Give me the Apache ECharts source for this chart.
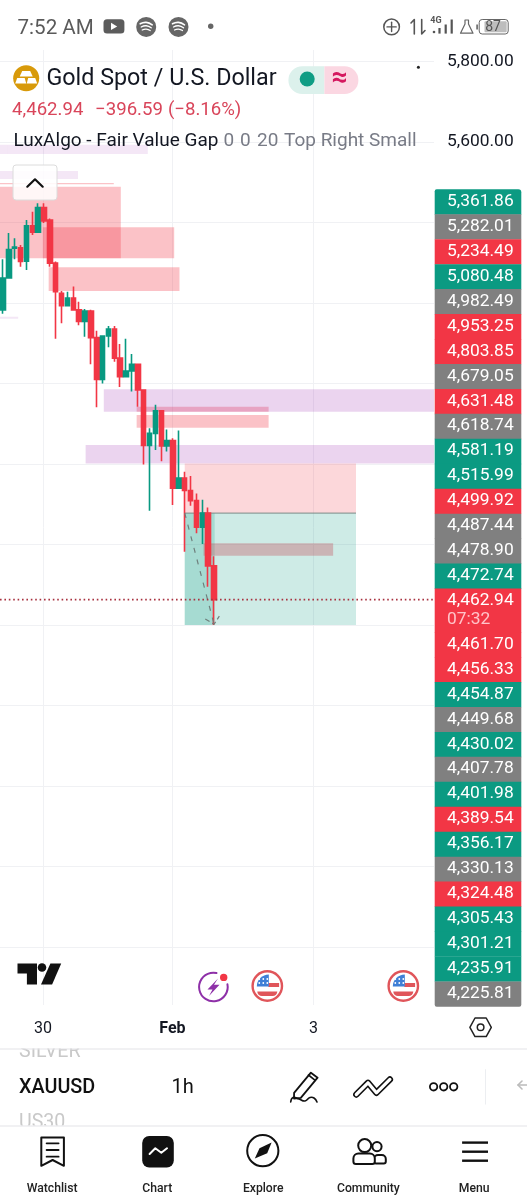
<!DOCTYPE html>
<html><head><meta charset="utf-8">
<style>html,body{margin:0;padding:0;background:#fff}#c{width:527px;height:1200px}</style>
<script src="https://cdn.jsdelivr.net/npm/echarts@6/dist/echarts.min.js"></script>
</head><body><div id="c"></div>
<script>
// ---- candle data (hourly XAUUSD) ----
const opens =[5183,5262,5336,5337,5304,5392,5376,5437,5406,5299,5224,5193,5212,5183,5154,5180,5114,5010,5118,5135,5063,5017,5031,5048,4984,4846,4876,4932,4845,4858,4740,4765,4734,4709,4643,4678,4547];
const closes=[5262,5333,5339,5303,5392,5376,5437,5404,5299,5228,5193,5212,5183,5154,5180,5114,5010,5118,5135,5063,5017,5031,5048,4984,4846,4876,4932,4845,4858,4740,4765,4734,4709,4643,4678,4547,4462.94];
const highs =[5309,5374,5361,5344,5406,5427,5448,5448,5410,5303,5230,5228,5241,5203,5185,5183,5131,5120,5143,5143,5098,5111,5073,5048,4985,4889,4947,4932,4886,4864,4883,4781,4770,4727,4711,4692,4571];
const lows  =[5173,5262,5309,5290,5282,5369,5375,5399,5290,5111,5150,5192,5181,5145,5116,5048,4941,5000,5090,5054,4991,5015,4980,4942,4799,4684,4835,4807,4831,4698,4740,4582,4696,4628,4601,4495,4400];
const lastPrice=4462.94;
const barCount=74;
const tickLabels=['30','Feb','3'];
const tickBars=[7,29,53];
const categories=Array.from({length:barCount},(_,i)=>tickBars.indexOf(i)>=0?tickLabels[tickBars.indexOf(i)]:'h'+i);
const priceTicks=['5,800.00','5,600.00'];
// zones: [fromBar,toBar,topPrice,bottomPrice]
const pinkZones=[[-0.5,20.1,5489,5311],[6.8,29.2,5388,5311],[7.8,30.1,5289,5230],[22.8,45.3,4942,4930],[22.8,45.3,4922,4890],[-0.5,18.9,5498,5495]];
const purpleZones=[[17.2,73.5,4986,4930],[14.1,73.5,4847,4801]];
const lilacZones=[[0.7,24.7,5593,5570],[-0.5,0.7,5593,5570],[-0.5,12.8,5528,5508],[-0.5,2.6,5166,5161]];
const stopZones=[[31,60.2,4801,4678]];
const targetZones=[[31,60.2,4678,4400],[31,36.1,4678,4400]];
const duskZones=[[34.2,56.3,4603,4572]];
const entryLine=[[31,4678],[60.2,4678]];
const forecastLine=[[31,4678],[36,4402]];
const forecastHead=[[34.5,4415],[36,4402],[36.9,4422]];
// price tags on the right scale
const tagValues=['5,361.86','5,282.01','5,234.49','5,080.48','4,982.49','4,953.25','4,803.85','4,679.05','4,631.48','4,618.74','4,581.19','4,515.99','4,499.92','4,487.44','4,478.90','4,472.74','4,462.94','4,461.70','4,456.33','4,454.87','4,449.68','4,430.02','4,407.78','4,401.98','4,389.54','4,356.17','4,330.13','4,324.48','4,305.43','4,301.21','4,235.91','4,225.81'];
const tagKinds=['g','n','r','g','n','r','r','n','r','n','g','g','r','n','n','g','r','r','r','g','n','g','n','g','r','g','n','r','g','g','g','n'];
const countdown='07:32';

const UP='#089981',DOWN='#f23645',GRID='#f0f1f4',FONT='Roboto';
const ink='#131722';
const els=[];
function T(text,x,y,size,fill,o){o=o||{};els.push({type:'text',z:o.z||50,silent:true,style:{text,x,y,fontSize:size,fontFamily:FONT,fontWeight:o.w||400,fill,align:o.a||'left',textAlign:o.a||'left',verticalAlign:'middle',textVerticalAlign:'middle'}});}
function R(x,y,w,h,fill,r,z){els.push({type:'rect',z:z||40,silent:true,shape:{x,y,width:w,height:h,r:r||0},style:{fill}});}
function C(cx,cy,r,fill,stroke,lw,z){els.push({type:'circle',z:z||45,silent:true,shape:{cx,cy,r},style:{fill:fill||'none',stroke:stroke||'none',lineWidth:lw||0}});}
function PG(points,fill,stroke,lw,z){els.push({type:'polygon',z:z||46,silent:true,shape:{points},style:{fill:fill||'none',stroke:stroke||'none',lineWidth:lw||0,lineJoin:'round'}});}
function PL(points,stroke,lw,smooth,z){els.push({type:'polyline',z:z||46,silent:true,shape:{points,smooth:smooth||0},style:{fill:'none',stroke,lineWidth:lw,lineCap:'round',lineJoin:'round'}});}

// --- status bar
T('7:52 AM',17.5,28.5,20.6,'#5a5a5a');
R(103.5,19.2,20.9,14.4,'#5c5c5c',3.5);PG([[111,22.7],[111,30],[117.2,26.4]],'#fff');
[146.2,178.5].forEach(cx=>{C(cx,26.9,10,'#666');PL([[cx-6,23.8],[cx,22.4],[cx+6,24.8]],'#fff',1.6,0.5);PL([[cx-5,27],[cx,25.8],[cx+5,27.8]],'#fff',1.4,0.5);PL([[cx-4,30],[cx,29.1],[cx+4,30.6]],'#fff',1.2,0.5);});
C(210.7,26.2,2.7,'#666');
C(391.6,26.9,7.8,null,'#555',1.5);PL([[387,26.9],[396.2,26.9]],'#555',1.4);PL([[391.6,22.3],[391.6,31.5]],'#555',1.4);
PL([[414.3,34],[414.3,19.5],[411,23]],'#555',1.6);PL([[421.7,19.5],[421.7,34],[425,30.5]],'#555',1.6);
T('4G',436,20.5,9,'#555',{a:'center',w:700});
C(434,32,1.3,'#555');R(438.4,28,2.2,5.6,'#555');R(444.6,24.5,2.2,9.1,'#555');R(450.6,19.5,2.2,14.1,'#555');
PG([[465,20],[468.5,20],[468.5,24],[473,33.2],[460.5,33.2],[465,24]],null,'#666',1.2);
R(476.3,24.5,1.6,5,'#666');
els.push({type:'rect',z:41,silent:true,shape:{x:479.2,y:19.5,width:29,height:14.5,r:3},style:{fill:'#fff',stroke:'#666',lineWidth:1}});
R(484.5,21.3,22.2,11,'#bdbdbd',1,42);
T('87',493,27.5,14,'#555',{a:'center'});

// --- symbol header
C(26.2,78.3,13,'#d89a0a');
PG([[22.2,71.1],[30.2,71.1],[32.7,76.6],[19.7,76.6]],'#fff');PG([[17.2,78.1],[24.7,78.1],[26.2,83.6],[15.2,83.6]],'#fff');PG([[28.2,78.1],[35.2,78.1],[37.2,83.6],[26.7,83.6]],'#fff');
T('Gold Spot / U.S. Dollar',46.4,79.5,23.3,ink);
R(288.4,66.2,36,27.9,'#dcf1ec',[14,0,0,14]);R(324.4,66.2,34,27.9,'#fbd7e2',[0,14,14,0]);
C(307.2,79,7.5,'#0f9d84');T('\u2248',339.8,78.5,28,'#d5185f',{a:'center',w:700});
T('4,462.94',12.1,110,18.6,'#d9455a');T('\u2212396.59',95.1,110,18.6,'#d9455a');T('(\u22128.16%)',168,110,18.6,'#d9455a');
T('LuxAlgo - Fair Value Gap',13.4,141.5,19,ink);T('0',223.5,141.5,19,'#787b86');T('0',240,141.5,19,'#787b86');T('20',257,141.5,19,'#787b86');T('Top Right Small',284,141.5,19,'#787b86');
C(418.4,67.2,1.5,'#222');
// --- collapse button
els.push({type:'rect',z:42,silent:true,shape:{x:13,y:165,width:44,height:35,r:3},style:{fill:'rgba(255,255,255,0.86)',stroke:'#dcdcdc',lineWidth:1}});
PL([[27.3,186.7],[35,179.3],[42.7,186.7]],'#111',2.2);
// --- tradingview logo and event icons
PG([[17.5,963.4],[37,963.4],[37,984.6],[26.9,984.6],[26.9,973.5],[17.5,973.5]],'#111');C(42,967.5,4.3,'#111');PG([[50.4,963.4],[61.2,963.4],[52.1,984.6],[41,984.6]],'#111');
els.push({type:'arc',z:45,silent:true,shape:{cx:213.4,cy:987,r:14.3,startAngle:-0.2,endAngle:-1.35,clockwise:true},style:{fill:'none',stroke:'#8e30a8',lineWidth:2,lineCap:'round'}});
PG([[218,978.5],[207.5,989.5],[212.5,989.5],[209,996],[219.5,984.8],[214,984.8]],'#8e30a8');C(223.7,977.4,3.7,'#f23645');
[267.3,403.3].forEach(cx=>{const cy=986;C(cx,cy,14.7,'#fff','#e0555a',2.4);
  R(cx+1,cy-3,10.8,4,'#e0555a',0,47);R(cx-10,cy+5.5,20,4.6,'#e0555a',[0,0,8,8],47);
  els.push({type:'sector',z:47,silent:true,shape:{cx:cx+1.5,cy:cy+0.5,r0:0,r:12,startAngle:Math.PI,endAngle:Math.PI*1.5},style:{fill:'#3f7fd6'}});
  [-8,-4,0].forEach(dx=>[-7,-3].forEach(dy=>C(cx+dx,cy+dy,0.9,'#fff',null,0,48)));
});
// --- bottom of time scale
PG([[469.9,1027.3],[475,1018],[486.2,1018],[491.3,1027.3],[486.2,1036.6],[475,1036.6]],null,'#222',1.5);C(480.6,1027.3,3.3,null,'#222',1.5);
// --- toolbar
T('SILVER',19,1052.5,19.6,'#c9c9c9');R(0,1037,460,11.5,'#fff',0,51);R(0,1048.5,527,1,'#e3e4e8',0,52);
T('XAUUSD',19,1088,19.8,'#111',{w:500});T('1h',171.4,1088,20,'#111');
PG([[294.1,1092.8],[310.9,1072.7],[317.6,1077.7],[300.8,1097.9],[294,1098.6]],null,'#111',1.8);PL([[308.5,1075],[315.2,1080.3]],'#111',1.6);
PL([[290.7,1102],[293,1097.5],[299,1099],[305,1101],[310,1097.5],[314,1098],[317,1102]],'#111',1.6,0.5);
PL([[356.3,1094.5],[368,1082.8],[376.4,1092.8],[389.9,1079.4]],'#111',6.4);PL([[356.3,1094.5],[368,1082.8],[376.4,1092.8],[389.9,1079.4]],'#fff',3.2);
C(433.6,1086.8,3.7,null,'#111',1.8);C(443.7,1086.8,3.7,null,'#111',1.8);C(453.7,1086.8,3.7,null,'#111',1.8);
R(485,1069.3,1,35.3,'#eceef1');PL([[528,1085],[518,1085]],'#bbb',1.6);PL([[522,1081],[518,1085],[522,1089]],'#bbb',1.6);
T('US30',19,1123,19.6,'#c9c9c9');R(0,1125.6,527,75,'#fff',0,51);R(0,1125.6,527,1,'#e3e4e8',0,52);
// --- bottom navigation
PG([[41.3,1137.5],[63.9,1137.5],[63.9,1165.8],[52.6,1160],[41.3,1165.8]],null,'#111',2,60);
[1143.3,1150,1156.7].forEach(y=>PL([[46.6,y],[58.6,y]],'#111',1.8,0,60));
R(142.2,1135.9,31.6,31.6,'#111',7,60);PL([[149.6,1154],[155.3,1148.3],[161.3,1152.7],[167,1148.3]],'#fff',2,0,61);
C(262.8,1150.7,15.6,null,'#111',2,60);PG([[254.8,1158.4],[259.5,1148.3],[271.6,1142.6],[267.2,1153.3]],'#111',null,0,60);
C(364.7,1145.6,6.5,null,'#111',2,60);C(377,1146.6,4.6,null,'#111',2,60);
els.push({type:'rect',z:60,silent:true,shape:{x:374,y:1155,width:11.8,height:8.4,r:[4,4,2,2]},style:{fill:'#fff',stroke:'#111',lineWidth:2}});
els.push({type:'rect',z:61,silent:true,shape:{x:353.4,y:1153.4,width:21.4,height:10.7,r:[5,5,2.5,2.5]},style:{fill:'#fff',stroke:'#111',lineWidth:2}});
[1142.6,1151.7,1160.7].forEach(y=>R(462.1,y-1.2,25.9,2.4,'#111',0,60));
[['Watchlist',52.1],['Chart',157.3],['Explore',263.2],['Community',368.4],['Menu',474.2]].forEach(a=>T(a[0],a[1],1189,12.2,'#222',{a:'center',w:500,z:60}));
// --- price tags, stacked down the scale
const tagColor={g:'#0b9a82',r:'#f23645',n:'#808080'};
let ty=189.3;
tagValues.forEach((v,i)=>{
  const tall=v==='4,462.94',h=tall?43.6:24.95,k=tagKinds[i];
  const r=i===0?[2,3,0,0]:(i===tagValues.length-1?[0,0,2,2]:0);
  R(434.7,ty,86.6,h+0.4,tagColor[k],r,30);
  T(v,447,ty+12.3,17.4,'#fff',{z:31});
  if(tall)T(countdown,447,ty+31.5,17.4,'#ffc4c9',{z:31});
  ty+=h;
});

function zones(data,fill,z){return {type:'custom',xAxisIndex:1,yAxisIndex:0,z,silent:true,animation:false,clip:true,
  encode:{x:[0,1],y:[2,3]},data,
  renderItem:(p,api)=>{const a=api.coord([api.value(0),api.value(2)]),b=api.coord([api.value(1),api.value(3)]);
    return {type:'rect',shape:{x:a[0],y:a[1],width:b[0]-a[0],height:b[1]-a[1]},style:{fill}};}};}
function line(data,color,type,width,z){return {type:'line',xAxisIndex:1,yAxisIndex:0,z,data,showSymbol:false,silent:true,animation:false,lineStyle:{color,type,width}};}

const chart=echarts.init(document.getElementById('c'));
chart.setOption({
  animation:false,backgroundColor:'#fff',
  graphic:{elements:els},
  grid:[{left:-1,top:61.5,width:435,height:885.5,containLabel:false},{left:1.94,top:50,width:429.1,height:955}],
  xAxis:[
    {type:'category',gridIndex:0,data:categories,show:false},
    {type:'value',gridIndex:0,min:-0.5,max:73.5,show:false,splitLine:{show:false}},
    {type:'category',gridIndex:1,data:categories,boundaryGap:false,axisLine:{show:false},axisTick:{show:false},
      splitLine:{show:true,interval:i=>tickBars.indexOf(i)>=0,lineStyle:{color:GRID,width:1}},
      axisLabel:{interval:i=>tickBars.indexOf(i)>=0,margin:16,hideOverlap:false,fontFamily:FONT,fontSize:16,color:ink,
        formatter:v=>v==='Feb'?'{b|Feb}':v,rich:{b:{fontWeight:700,fontSize:16,fontFamily:FONT,color:ink}}}}
  ],
  yAxis:[
    {type:'value',gridIndex:0,position:'right',min:3600,max:5800,interval:200,axisLine:{show:false},axisTick:{show:false},
      splitLine:{show:true,lineStyle:{color:GRID,width:1}},
      axisLabel:{margin:13,fontFamily:FONT,fontSize:17.4,color:ink,showMinLabel:false,
        formatter:v=>{const s=priceTicks.find(t=>t===v.toLocaleString('en-US',{minimumFractionDigits:2}));return s||'';}}},
    {type:'value',gridIndex:1,min:0,max:1,show:false,splitLine:{show:false}}
  ],
  series:[
    zones(lilacZones,'rgba(156,39,176,0.11)',2),
    zones(pinkZones,'rgba(242,54,69,0.30)',2),
    zones(purpleZones,'rgba(156,39,176,0.20)',2),
    zones(stopZones,'rgba(242,54,69,0.20)',2),
    zones(targetZones,'rgba(8,153,129,0.20)',2),
    zones(duskZones,'rgba(194,77,90,0.35)',3),
    line(entryLine,'#7d8a87','solid',1,4),
    {type:'candlestick',xAxisIndex:0,yAxisIndex:0,z:5,silent:true,animation:false,barWidth:5,
      data:opens.map((o,i)=>[o,closes[i],lows[i],highs[i]]),
      itemStyle:{color:UP,color0:DOWN,borderColor:UP,borderColor0:DOWN,borderWidth:1.6}},
    line(forecastLine,'#6f7f7c',[5,7],1.2,6),
    line(forecastHead,'#6f7f7c',[5,3],1.2,6),
    line([[-0.5,lastPrice],[73.5,lastPrice]],'#a83240',[1.6,2.8],1.6,7)
  ]
});
</script></body></html>
